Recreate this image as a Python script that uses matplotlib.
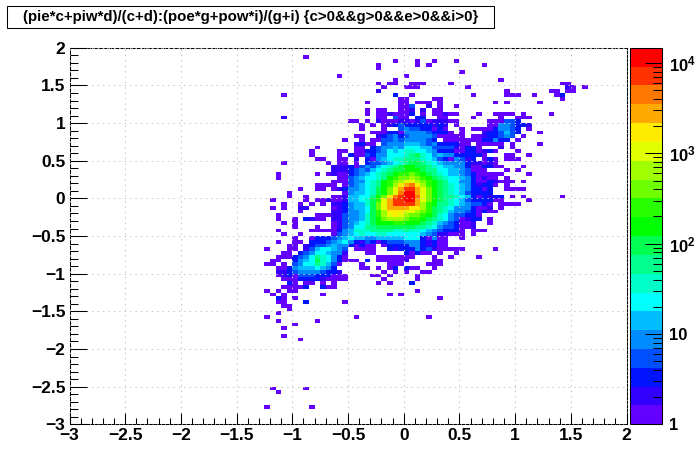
#!/usr/bin/env python
'''
2D histogram of east/west vs outer east/west, log colour scale, ROOT look
'''
import numpy as np
import matplotlib
matplotlib.use('Agg')
from matplotlib import pyplot as plt
from matplotlib.colors import ListedColormap, LogNorm
from matplotlib.patches import Rectangle
from matplotlib.ticker import AutoMinorLocator, FixedLocator, NullFormatter

plt.rcParams['font.family'] = ['Liberation Sans', 'DejaVu Sans']
plt.rcParams['font.weight'] = 'bold'
plt.rcParams['mathtext.fontset'] = 'custom'
plt.rcParams['mathtext.rm'] = 'Liberation Sans:bold'
plt.rcParams['mathtext.bf'] = 'Liberation Sans:bold'
plt.rcParams['axes.unicode_minus'] = True

title_text = '(pie*c+piw*d)/(c+d):(poe*g+pow*i)/(g+i) {c>0&&g>0&&e>0&&i>0}'

xticks = [-3, -2.5, -2, -1.5, -1, -0.5, 0, 0.5, 1, 1.5, 2]
xlabels = ['\u22123', '\u22122.5', '\u22122', '\u22121.5', '\u22121', '\u22120.5', '0', '0.5', '1', '1.5', '2']
yticks = xticks
ylabels = xlabels
zticks = [1, 10, 100, 1000, 10000]
zlabels = ['1', '10', r'$\mathbf{10^{2}}$', r'$\mathbf{10^{3}}$', r'$\mathbf{10^{4}}$']
zmax = 14730.

palette = ['#6400ff', '#3200ff', '#0014ff', '#0050ff', '#008cff', '#00beff', '#00ffff', '#00ffc8',
           '#00ff8c', '#00ff50', '#00ff00', '#28ff00', '#6eff00', '#a0ff00', '#e1ff00', '#ffeb00',
           '#ffaa00', '#ff7800', '#ff3200', '#ff0000']

# (row from top, first column, colour levels)
# levels: 1-9 then a=10 ... k=20
top_cells = [
    (2, [(42, '1')]),
    (3, [(58, '1'), (62, '1'), (65, '1'), (69, '1')]),
    (4, [(55, '1'), (62, '1'), (64, '1'), (74, '1')]),
    (5, [(55, '1')]),
    (6, [(70, '1')]),
    (7, [(48, '1'), (60, '1')]),
    (8, [(58, '1'), (77, '1')]),
    (9, [(55, '1'), (57, '11'), (61, '11'), (63, '1'), (68, '1'), (88, '11')]),
    (10, [(56, '1'), (60, '111'), (71, '1'), (89, '21'), (92, '1')]),
    (11, [(55, '2'), (78, '1'), (86, '11'), (89, '11')]),
    (12, [(38, '1'), (58, '3'), (61, '1'), (72, '1'), (78, '111'), (83, '1'), (87, '13')]),
    (13, [(59, '11'), (65, '11'), (88, '1')]),
    (14, [(53, '1'), (59, '11'), (62, '111'), (66, '1'), (76, '1'), (78, '1'), (84, '1')]),
    (15, [(59, '114'), (64, '2'), (66, '1'), (69, '1')]),
    (16, [(53, '1'), (55, '11'), (59, '112'), (63, '2'), (65, '11')]),
    (17, [(53, '1'), (55, '11'), (57, '2111'), (61, '3'), (63, '1'), (65, '11211'), (73, '1'), (76, '1111'), (81, '1'), (86, '1')]),
    (18, [(38, '2'), (55, '11'), (58, '411'), (62, '33'), (66, '11'), (72, '1'), (77, '1'), (80, '111')]),
    (19, [(50, '11'), (53, '1'), (55, '21112'), (60, '212'), (63, '41222'), (68, '11'), (75, '111'), (78, '443')]),
    (20, [(52, '1'), (54, '1'), (56, '1234333'), (63, '33232'), (69, '1'), (75, '11'), (77, '55433'), (82, '2')]),
    (21, [(52, '1'), (56, '1'), (59, '4544'), (63, '33131'), (70, '1'), (72, '1111'), (76, '35543'), (82, '1')]),
    (22, [(54, '11'), (56, '1331555'), (63, '543331'), (70, '1'), (74, '2334643'), (84, '1')]),
    (23, [(51, '11'), (55, '23453455'), (63, '55411111'), (72, '11'), (74, '233454'), (81, '1')]),
    (24, [(49, '1'), (52, '1'), (54, '11'), (56, '4454555'), (63, '543'), (67, '1111111'), (74, '33533'), (80, '1')]),
    (25, [(51, '2311'), (56, '4555666'), (63, '54533331'), (71, '1'), (73, '11'), (75, '11'), (77, '1'), (79, '1'), (84, '1')]),
    (26, [(44, '1'), (51, '11'), (54, '345565777'), (63, '66444421331'), (77, '2'), (79, '1')]),
    (27, [(43, '1'), (48, '11'), (51, '113345767887'), (63, '76533311331231'), (80, '1')]),
    (28, [(43, '1'), (48, '1'), (50, '311435577789a'), (63, '875655333331'), (78, '11'), (82, '1')]),
    (29, [(44, '11'), (48, '11'), (51, '2'), (53, '3156788999'), (63, '8764315423'), (74, '131'), (78, '111')]),
]
core_cells = [
    (30, [(38, '1'), (46, '1'), (48, '11'), (51, '1'), (53, '34456789aa'), (63, '98765555322121')]),
    (31, [(47, '22231'), (52, '4546789abba'), (63, 'a98766553113311'), (81, '1')]),
    (32, [(47, '2223'), (51, '4546789aabbb'), (63, 'a99776654111'), (78, '1'), (80, '1')]),
    (33, [(37, '1'), (44, '1'), (46, '1211'), (50, '3456789abccdc'), (63, 'ba9876654311111'), (82, '1')]),
    (34, [(37, '1'), (48, '11'), (50, '4567789bcdded'), (63, 'cba98776531211'), (78, '1')]),
    (35, [(47, '111'), (50, '455789bcdeffe'), (63, 'dcba97755311321'), (78, '11'), (81, '1')]),
    (36, [(44, '11'), (46, '11'), (49, '1'), (50, '456789bceghig'), (63, 'ecba9876532331'), (78, '1')]),
    (37, [(41, '1'), (44, '11'), (47, '123'), (50, '55678abdfhjjh'), (63, 'fdba987653313'), (78, '1111')]),
    (38, [(39, '1'), (49, '1'), (50, '56678abdfikkh'), (63, 'fdba987643333')]),
    (39, [(39, '1'), (42, '1'), (47, '112'), (50, '66779bdgijkki'), (63, 'fdba99876313233'), (79, '1'), (81, '1'), (88, '1')]),
    (40, [(36, '1'), (42, '1'), (44, '112112'), (50, '6678acfhjjkkh'), (63, 'fdba98764333311'), (82, '1')]),
    (41, [(38, '1'), (41, '1'), (43, '1'), (45, '1'), (47, '223'), (50, '5668adfhjjjjh'), (63, 'ecb9987654431'), (77, '1111')]),
    (42, [(36, '1'), (38, '1'), (41, '22'), (47, '123'), (50, '5667adfhhhhgg'), (63, 'eca9875553112'), (77, '1')]),
    (43, [(41, '1'), (47, '223'), (50, '5567acegggffe'), (63, 'dca9865543131'), (76, '1')]),
    (44, [(37, '1'), (44, '11'), (46, '1224'), (50, '5568acefgfedd'), (63, 'cba87544331')]),
    (45, [(37, '1'), (40, '1'), (42, '32'), (44, '11'), (47, '224'), (50, '5568abdeeedcc'), (63, 'ba987541233'), (75, '1')]),
    (46, [(38, '1'), (40, '1'), (47, '124'), (50, '5678abbbccbbb'), (63, 'a986543112'), (75, '1')]),
    (47, [(40, '1'), (44, '1'), (47, '124'), (50, '57799aaaaaaa9'), (63, '9875443112')]),
    (48, [(37, '1'), (43, '1111'), (47, '135'), (50, '6888999988988'), (63, '76543331'), (72, '11'), (74, '1')]),
    (49, [(38, '1'), (41, '1'), (47, '145'), (50, '6787788777777'), (63, '65422111'), (72, '1')]),
]
tail_cells = [
    (50, [(40, '1'), (43, '1333'), (47, '456'), (50, '7665566666777'), (63, '31511'), (70, '1')]),
    (51, [(37, '1'), (40, '11'), (43, '33345'), (48, '675'), (51, '324313444555'), (63, '32311')]),
    (52, [(39, '11'), (42, '234456553'), (51, '1311'), (56, '1333355'), (63, '32311')]),
    (53, [(35, '1'), (39, '11'), (42, '24677654'), (51, '1111'), (57, '323335'), (63, '3421111'), (70, '1'), (76, '1')]),
    (54, [(38, '11'), (41, '345776552'), (53, '11'), (60, '31311'), (66, '1'), (69, '1')]),
    (55, [(37, '111'), (40, '3457987531'), (55, '1111111'), (65, '1'), (68, '1'), (73, '1')]),
    (56, [(36, '11'), (40, '3567a8753111'), (53, '3'), (55, '11111'), (60, '2'), (65, '11')]),
    (57, [(35, '11'), (38, '1'), (40, '457798641'), (52, '1'), (57, '111'), (64, '111')]),
    (58, [(37, '113'), (40, '56667653'), (52, '11'), (55, '1'), (57, '13'), (60, '311'), (65, '1')]),
    (59, [(37, '223'), (40, '455554332'), (56, '1'), (58, '1'), (60, '1'), (63, '11')]),
    (60, [(37, '1231'), (41, '444333111'), (54, '11'), (57, '1'), (62, '1')]),
    (61, [(38, '111'), (41, '3333'), (45, '2111'), (49, '1'), (56, '1'), (62, '1')]),
    (62, [(39, '31'), (42, '11'), (45, '1'), (47, '1'), (55, '1'), (57, '1'), (61, '3')]),
    (63, [(38, '111'), (41, '13'), (45, '311')]),
]
sparse_cells = [
    (64, [(35, '1'), (37, '1'), (39, '11'), (62, '1')]),
    (65, [(36, '1'), (38, '1'), (45, '1'), (57, '1'), (59, '1')]),
    (66, [(37, '31'), (40, '1'), (66, '1')]),
    (67, [(37, '11'), (42, '3'), (49, '1')]),
    (68, [(38, '11')]),
    (69, [(39, '1')]),
    (70, [(37, '1')]),
    (71, [(35, '1'), (51, '1'), (64, '1')]),
    (72, [(37, '1'), (44, '1')]),
    (73, [(40, '1')]),
    (74, [(38, '1')]),
    (76, [(38, '1')]),
    (77, [(41, '1')]),
    (90, [(36, '1'), (42, '1')]),
    (91, [(37, '1')]),
    (95, [(35, '1'), (43, '1')]),
]

nbins = 100
level_chars = '123456789abcdefghijk'
decades_per_level = np.log10(zmax)/20.

hist = np.full((nbins, nbins), np.nan)
for block in (top_cells, core_cells, tail_cells, sparse_cells):
    for row, segments in block:
        for col, levels in segments:
            for i, c in enumerate(levels):
                lvl = level_chars.index(c)
                # middle of the colour band, row counted from the top
                hist[nbins-1-row, col+i] = 10**((lvl+0.5)*decades_per_level)

W, H = 696., 472.
fig = plt.figure(figsize=(W/100, H/100), dpi=100)
ax = fig.add_axes([69.5/W, 1-424.3/H, 557./W, 376.5/H])
cax = fig.add_axes([630./W, 1-424.3/H, 32./W, 376.5/H])

edges_x = np.linspace(-3, 2, nbins+1)
edges_y = np.linspace(-3, 2, nbins+1)
cmap = ListedColormap(palette)
cmap.set_bad((1, 1, 1, 0))
norm = LogNorm(vmin=1, vmax=zmax)
mesh = ax.pcolormesh(edges_x, edges_y, np.ma.masked_invalid(hist), cmap=cmap, norm=norm,
                     antialiased=False, linewidth=0, zorder=1)

ax.set_xlim(-3, 2)
ax.set_ylim(-3, 2)
ax.set_axisbelow(False)
ax.grid(True, color='#c4c4c4', linewidth=0.75, linestyle=(0, (1.3, 3.9)), zorder=2)
ax.set_xticks(xticks, labels=xlabels)
ax.set_yticks(yticks, labels=ylabels)
ax.xaxis.set_minor_locator(AutoMinorLocator(5))
ax.yaxis.set_minor_locator(AutoMinorLocator(5))
ax.tick_params(axis='x', which='major', direction='in', length=8, width=0.75, labelsize=12.5, pad=3)
ax.tick_params(axis='x', which='minor', direction='in', length=4, width=0.75)
ax.tick_params(axis='y', which='major', direction='in', length=12, width=0.75, labelsize=12.5, pad=3)
ax.tick_params(axis='y', which='minor', direction='in', length=6, width=0.75)
for side in ('top', 'right', 'bottom'):
    ax.spines[side].set_linestyle((0, (2.5, 1.5)))
    ax.spines[side].set_linewidth(0.75)
ax.spines['left'].set_linewidth(0.75)

cb = fig.colorbar(mesh, cax=cax)
cb.outline.set_linewidth(0.75)
cax.yaxis.set_ticks_position('right')
cax.set_yticks(zticks, labels=zlabels)
minor_z = [m*10**d for d in range(5) for m in range(2, 10) if m*10**d < zmax]
cax.yaxis.set_minor_locator(FixedLocator(minor_z))
cax.yaxis.set_minor_formatter(NullFormatter())
cax.tick_params(axis='y', which='major', direction='in', length=12.5, width=0.75, labelsize=12, pad=5)
cax.tick_params(axis='y', which='minor', direction='in', length=6.5, width=0.75)

fig.patches.append(Rectangle((6.8/W, 1-28.3/H), 487.5/W, 22.3/H, transform=fig.transFigure,
                             facecolor='white', edgecolor='black', linewidth=0.75))
fig.text(250.5/W, 1-17.3/H, title_text, ha='center', va='center', fontsize=10.8, fontweight='bold')

fig.savefig('out.png', dpi=100)
